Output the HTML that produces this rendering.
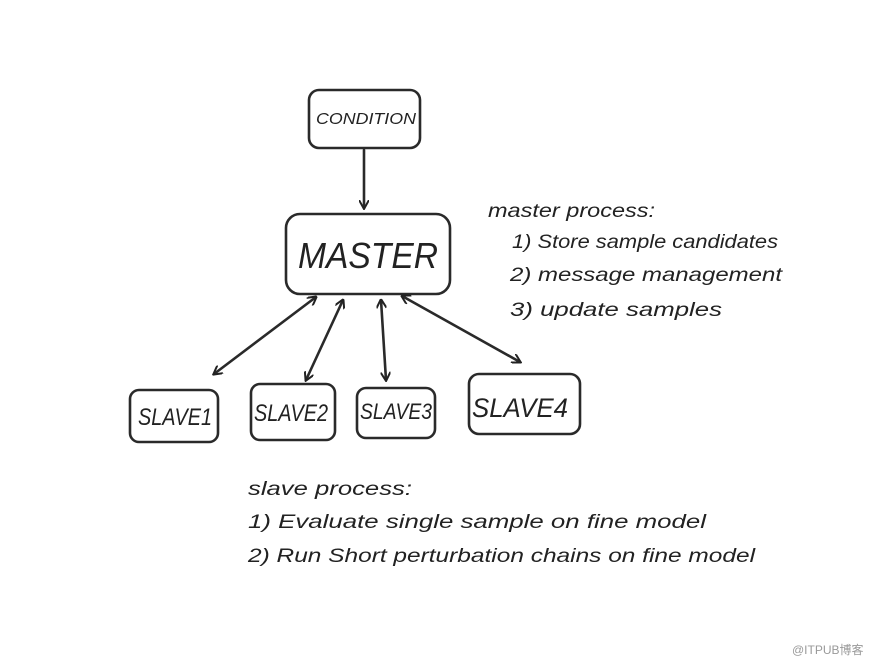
<!DOCTYPE html>
<html>
<head>
<meta charset="utf-8">
<style>
html,body{margin:0;padding:0;background:#fff;}
svg{display:block;}
text{font-family:"Liberation Sans","Noto Sans CJK SC",sans-serif;fill:#222;}
.h{font-style:italic;}
</style>
</head>
<body>
<svg width="890" height="668" viewBox="0 0 890 668" xmlns="http://www.w3.org/2000/svg">
<defs>
<marker id="a" markerWidth="10" markerHeight="10" refX="8" refY="5" orient="auto" markerUnits="userSpaceOnUse">
<path d="M0,0 L9,5 L0,10" fill="none" stroke="#222" stroke-width="2"/>
</marker>
<marker id="b" markerWidth="10" markerHeight="10" refX="1" refY="5" orient="auto" markerUnits="userSpaceOnUse">
<path d="M9,0 L0,5 L9,10" fill="none" stroke="#222" stroke-width="2"/>
</marker>
</defs>
<g fill="none" stroke="#2a2a2a" stroke-width="2.6" stroke-linecap="round">
<rect x="309" y="90" width="111" height="58" rx="10"/>
<rect x="286" y="214" width="164" height="80" rx="14"/>
<rect x="130" y="390" width="88" height="52" rx="9"/>
<rect x="251" y="384" width="84" height="56" rx="9"/>
<rect x="357" y="388" width="78" height="50" rx="9"/>
<rect x="469" y="374" width="111" height="60" rx="10"/>
<line x1="364" y1="150" x2="364" y2="208" marker-end="url(#a)"/>
<line x1="316" y1="297" x2="214" y2="374" marker-start="url(#b)" marker-end="url(#a)"/>
<line x1="343" y1="300" x2="306" y2="380" marker-start="url(#b)" marker-end="url(#a)"/>
<line x1="381" y1="300" x2="386" y2="380" marker-start="url(#b)" marker-end="url(#a)"/>
<line x1="402" y1="296" x2="520" y2="362" marker-start="url(#b)" marker-end="url(#a)"/>
</g>
<g lengthAdjust="spacingAndGlyphs">
<text class="h" x="316" y="124" font-size="16" textLength="100" lengthAdjust="spacingAndGlyphs">CONDITION</text>
<text class="h" x="298" y="268" font-size="36" textLength="140" lengthAdjust="spacingAndGlyphs">MASTER</text>
<text class="h" x="138" y="425" font-size="24" textLength="74" lengthAdjust="spacingAndGlyphs">SLAVE1</text>
<text class="h" x="254" y="421" font-size="24" textLength="74" lengthAdjust="spacingAndGlyphs">SLAVE2</text>
<text class="h" x="360" y="419" font-size="22" textLength="72" lengthAdjust="spacingAndGlyphs">SLAVE3</text>
<text class="h" x="472" y="417" font-size="27" textLength="96" lengthAdjust="spacingAndGlyphs">SLAVE4</text>
<text class="h" x="488" y="217" font-size="19" textLength="167" lengthAdjust="spacingAndGlyphs">master process:</text>
<text class="h" x="512" y="248" font-size="19" textLength="266" lengthAdjust="spacingAndGlyphs">1) Store sample candidates</text>
<text class="h" x="510" y="281" font-size="19" textLength="272" lengthAdjust="spacingAndGlyphs">2) message management</text>
<text class="h" x="510" y="316" font-size="19" textLength="212" lengthAdjust="spacingAndGlyphs">3) update samples</text>
<text class="h" x="248" y="495" font-size="19" textLength="164" lengthAdjust="spacingAndGlyphs">slave process:</text>
<text class="h" x="248" y="528" font-size="19" textLength="458" lengthAdjust="spacingAndGlyphs">1) Evaluate single sample on fine model</text>
<text class="h" x="248" y="562" font-size="19" textLength="507" lengthAdjust="spacingAndGlyphs">2) Run Short perturbation chains on fine model</text>
</g>
<text x="792" y="654" font-size="12" style="fill:#999">@ITPUB博客</text>
</svg>
</body>
</html>
